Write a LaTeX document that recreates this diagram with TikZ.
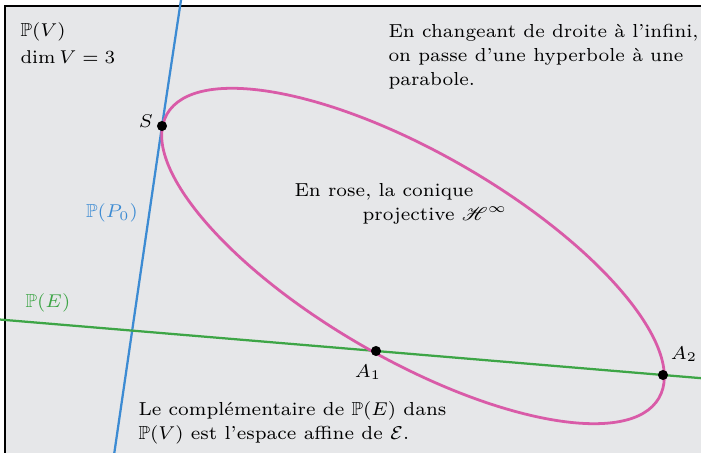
\documentclass[tikz,border=0pt]{standalone}
\usepackage{amssymb}
\usepackage{mathrsfs}
\usetikzlibrary{positioning}
\definecolor{cpink}{HTML}{D95BA8}
\definecolor{cblue}{HTML}{3C8BD3}
\definecolor{cgreen}{HTML}{3DA546}
\definecolor{cback}{HTML}{E6E7E9}
\tikzset{
  every picture/.style={font=\fontsize{7.1}{9.1}\selectfont},
  note/.style={inner sep=0pt, align=left, anchor=north west},
  lbl/.style={inner sep=0pt},
  dot/.style={circle, fill=black, inner sep=0pt, minimum size=3.8pt},
  pline/.style={draw=#1, line width=0.85pt},
  conic/.style={draw=cpink, line width=1.05pt},
}
\begin{document}
\begin{tikzpicture}[x=0.3774pt, y=-0.3774pt]
  \clip (0,0) rectangle (701,453);
  \fill[white] (0,0) rectangle (701,453);
  \draw[fill=cback, line width=0.7pt] (5,6) rectangle (720,470);

  % points of the conic
  \coordinate (S) at (162,126);
  \coordinate (A1) at (376,351);
  \coordinate (A2) at (663,375);
  \coordinate (p0top) at (182.5,-10);
  \coordinate (p0bot) at (113,462);

  \draw[pline=cblue] (p0top) -- (S) -- (p0bot);
  \draw[pline=cgreen, shorten <=-150pt, shorten >=-20pt] (A1) -- (A2);
  \draw[conic, shift={(413,256)}, rotate=-30] (0,0) ellipse [x radius=284, y radius=103];

  \node[dot] (sdot) at (S) {};
  \node[dot] (a1dot) at (A1) {};
  \node[dot] (a2dot) at (A2) {};

  \node[lbl] (slbl) at (146,121) {$S$};
  \node[lbl] (a1lbl) at (368,372) {$A_1$};
  \node[lbl] (a2lbl) at (684,354) {$A_2$};
  \node[lbl, text=cblue] (p0lbl) at (112,213) {$\mathbb{P}(P_0)$};
  \node[lbl, text=cgreen] (elbl) at (48,303) {$\mathbb{P}(E)$};

  \node[note] (space) at (20,22) {$\mathbb{P}(V)$\\[1.2pt] $\dim V=3$};
  \node[note] (change) at (388,24) {En changeant de droite à l'infini,\\ on passe d'une hyperbole à une\\ parabole.};
  \node[note] (rose) at (294,183) {En rose, la conique\\ \hspace*{25.7pt}projective $\mathscr{H}^\infty$};
  \node[note] (affine) at (138,401) {Le complémentaire de $\mathbb{P}(E)$ dans\\ $\mathbb{P}(V)$ est l'espace affine de $\mathcal{E}$.};
\end{tikzpicture}
\end{document}
